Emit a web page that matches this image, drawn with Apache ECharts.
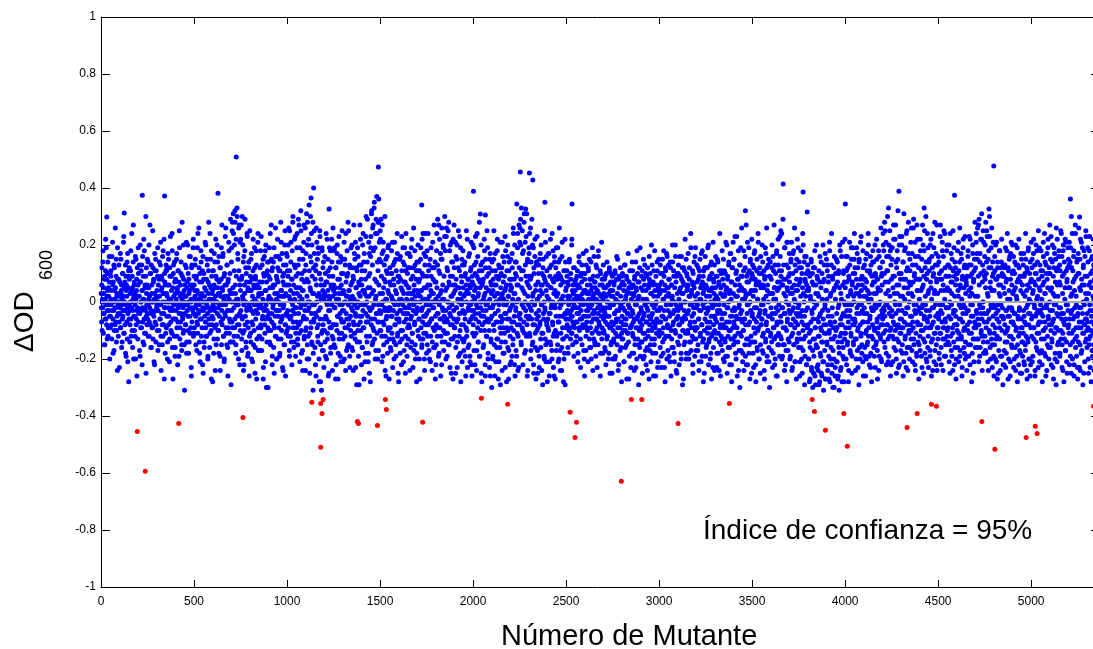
<!DOCTYPE html>
<html>
<head>
<meta charset="utf-8">
<script src="https://cdn.jsdelivr.net/npm/echarts@6/dist/echarts.min.js"></script>
<style>
  html, body { margin: 0; padding: 0; background: #fff; }
  #chart { width: 1093px; height: 649px; }
</style>
</head>
<body>
<div id="chart"></div>
<script>
// axis ticks
const xTicks = [0, 500, 1000, 1500, 2000, 2500, 3000, 3500, 4000, 4500, 5000];
const yTicks = [-1, -0.8, -0.6, -0.4, -0.2, 0, 0.2, 0.4, 0.6, 0.8, 1];

// ΔOD600 of the screen in hundredths; odd mutants (1, 3, 5, ...)
const deltaOdOdd = [
  // 0 - 499
  3,-7,12,0,-2,18,-11,5,-4,9,-15,1,22,-6,8,-1,-13,4,14,-9,2,-3,7,-20,10,
  -5,11,1,-8,16,-3,6,-18,0,13,-10,4,-2,26,-7,9,-14,2,-5,19,-1,-12,8,3,-23,
  7,-2,-9,15,4,-16,1,-6,10,-3,21,-11,5,0,-8,13,-1,-19,6,2,-13,17,-4,9,-28,
  -1,8,-14,3,11,-6,0,24,-10,5,-3,14,-20,2,7,-5,-12,16,1,-8,4,-26,12,-2,6,
  10,-4,2,-17,7,20,-9,0,-3,13,-22,4,-7,9,1,-15,18,-2,6,-11,30,-5,3,-8,15,
  -6,14,-1,5,-12,2,27,-8,10,-3,-16,6,0,-9,12,-4,8,-21,3,17,-7,1,-14,11,-2,
  4,-10,19,-3,0,8,-15,2,-6,13,-1,-24,9,5,-8,16,-12,3,-4,22,-2,7,-18,0,11,
  -9,3,12,-20,6,-2,15,-5,1,-13,9,23,-7,0,4,-11,18,-3,-27,10,2,-6,14,-1,-16,
  8,-3,0,17,-12,5,-7,11,-1,-19,25,3,-9,6,-4,14,-15,1,9,-6,-2,20,-10,4,-31,
  -4,13,-8,2,21,-14,7,-1,-5,10,-18,3,16,-2,-11,6,0,-23,12,-7,5,-3,19,-12,1,
  // 500 - 999
  6,-11,2,15,-5,-1,9,-17,4,-8,24,0,-3,12,-14,7,-21,1,18,-6,3,-9,11,-2,-25,
  -3,10,-16,5,0,-7,20,-12,8,-1,13,-4,-19,3,28,-8,6,-11,1,15,-2,-27,9,-5,4,
  11,-6,1,-13,17,-2,-9,5,22,-15,0,8,-4,14,-10,3,-18,7,-1,12,-24,2,-7,19,-3,
  -8,4,16,-1,-12,9,-20,2,6,-5,26,-11,0,13,-3,-16,7,-9,21,1,-6,10,-14,3,-29,
  14,-3,25,-9,5,31,0,-12,20,-6,28,3,-15,9,-1,33,-8,17,1,-20,11,27,-4,6,-10,
  22,-5,8,-17,30,2,-11,14,-1,-22,6,18,-8,0,-14,10,-3,24,-7,4,-18,12,-2,-26,7,
  -2,9,-14,4,17,-7,0,-21,11,-4,6,-10,19,1,-16,8,-3,13,-27,5,-1,21,-9,2,-12,
  5,-17,12,-1,-8,23,3,-13,7,-5,15,-23,0,9,-2,-11,18,-6,4,-30,10,-3,14,-9,1,
  -10,2,19,-6,8,-15,1,27,-4,11,-19,5,-1,14,-8,-25,6,0,-12,16,-3,9,-20,3,22,
  7,-13,0,11,-3,-18,15,-7,4,21,-10,2,-5,9,-24,13,-1,6,-15,25,-8,3,-11,17,-4,
  // 1000 - 1499
  16,-5,9,-12,26,2,-19,11,-6,4,21,-14,0,8,-3,28,-9,6,-16,13,1,-2,23,-11,5,
  -7,19,3,-13,10,29,-8,0,15,-21,5,-2,25,-10,8,1,-17,18,4,-5,27,-12,11,-1,-24,
  13,-9,31,2,-15,20,-3,7,-20,34,0,-11,16,4,-7,24,-14,9,-1,28,-18,3,-6,17,-4,
  8,-22,11,26,-5,0,15,-12,19,-8,3,-28,10,23,-2,-15,6,-31,2,18,-10,12,-17,1,-6,
  -10,16,2,-19,7,0,-6,22,-13,4,11,-3,-25,9,1,-9,18,-16,5,-1,14,-12,2,26,-8,
  6,-15,19,-2,3,-27,12,-8,0,17,-5,8,-18,1,23,-11,5,-4,14,-21,3,10,-7,-1,15,
  -13,4,-3,21,0,-9,13,-24,7,2,-6,18,-16,10,-1,25,-8,4,-19,12,-5,6,-12,0,20,
  2,-17,9,-7,27,1,-11,15,-4,-23,5,12,-2,-14,19,0,-8,7,-29,13,-5,2,22,-10,8,
  -5,11,-16,4,24,-1,-9,17,3,-21,8,-4,30,-12,0,14,-7,5,-18,21,2,-25,10,-3,16,
  23,-8,32,-2,13,-14,27,4,-10,35,-6,19,1,-17,29,7,-4,24,-20,11,-1,28,-7,15,3,
  // 1500 - 1999
  25,-4,29,9,-12,17,0,-19,21,5,-8,13,-2,-24,7,15,-6,1,-14,10,-3,19,-10,3,-27,
  -3,12,-9,6,-17,2,10,-5,21,-13,0,8,-20,14,-1,-8,4,-15,11,3,-4,17,-11,-25,7,
  9,-7,1,-14,16,-3,5,-22,11,0,-10,19,-4,3,-17,13,-2,7,-12,24,-6,1,-19,10,-4,
  -13,5,17,-2,-9,12,0,-16,8,-5,22,-11,3,-23,12,-1,6,-8,18,-15,2,-4,11,-18,4,
  11,-10,3,14,-6,-20,8,0,-13,19,4,-3,-15,10,-7,24,1,-11,5,-24,13,-5,16,-1,-8,
  -4,18,-12,6,-1,11,-17,2,-7,15,-21,4,9,-6,0,-14,21,-9,3,-2,12,-16,7,-27,1,
  7,-15,24,-4,13,-9,2,27,-18,0,10,-6,17,-12,4,-22,15,-2,6,20,-10,1,-5,23,-14,
  18,-3,-11,26,5,-19,11,-7,0,28,-15,6,-4,20,-8,2,-25,14,-1,9,-13,22,3,-6,12,
  -9,4,21,-16,8,-2,15,-23,5,-6,25,0,-12,11,-4,-18,19,1,-8,7,-21,13,-3,5,-14,
  2,-13,14,-6,10,-26,6,0,-10,22,-3,-16,8,3,-7,17,-19,5,-1,12,-22,0,9,-5,20,
  // 2000 - 2499
  -8,6,-17,13,1,-4,23,-11,5,-24,9,-2,16,-14,3,-7,11,-19,7,0,-10,20,-5,-28,6,
  14,-3,8,-15,2,18,-7,-22,12,-1,5,-12,25,-6,0,-18,10,4,-10,15,-2,-26,7,-14,3,
  -5,11,-20,4,-1,15,-10,6,-26,17,0,-7,9,-16,3,22,-13,-3,8,-21,12,1,-9,-29,5,
  10,-14,2,21,-6,-18,7,-1,14,-11,4,-23,18,-4,6,-9,0,16,-16,2,-27,11,-6,8,-12,
  -2,15,-9,5,-19,12,1,-13,24,-7,8,-22,3,14,-3,-17,9,0,-11,19,-24,6,-5,27,-8,
  21,-4,29,8,-15,11,-1,25,-10,4,18,-7,31,-18,0,13,-3,23,-12,7,-26,15,2,-6,9,
  17,-11,5,-2,26,-17,9,-6,0,20,-14,3,-22,12,-1,-8,22,-16,6,-4,14,-10,1,-25,7,
  -5,13,-19,2,-8,17,-13,6,-1,-24,10,3,-11,15,-6,0,-20,8,-3,21,-15,4,-7,11,-28,
  6,-9,1,17,-4,-21,9,-14,5,-2,13,-17,24,-7,0,-12,7,-26,16,-1,4,-10,12,-17,2,
  -11,3,19,-7,10,-20,0,-5,15,-24,6,-1,8,-16,21,-9,2,-13,7,-20,11,-4,-29,14,-6,
  // 2500 - 2999
  5,-12,9,-3,7,-18,1,-6,14,-4,2,-9,10,0,-11,22,-5,-15,6,3,-8,-1,12,-2,4,
  -7,8,-14,2,-4,11,-21,6,-2,16,-9,0,5,-13,9,-3,-6,13,1,-8,-1,10,-17,4,-26,
  10,-5,0,-12,18,-7,3,-10,-3,12,1,-2,15,-16,6,-9,4,-20,8,-1,19,-4,2,-6,-13,
  -3,7,-15,5,-10,13,0,-6,-23,9,-4,16,-11,3,-8,-1,11,-18,2,-5,21,-9,6,-2,1,
  -6,3,-11,8,-4,-17,5,-2,10,-13,0,-8,6,-20,3,-5,12,-9,-1,7,-15,2,-7,-25,9,
  4,-10,-1,-14,7,-4,11,-19,1,-7,8,-3,-12,15,-6,0,-22,5,9,-9,-2,2,-16,6,-11,
  -5,10,-13,0,-8,-21,6,-3,13,-10,2,-6,-15,8,-4,4,-11,-1,-27,7,-2,11,-9,-5,3,
  1,-8,14,-11,-4,6,-18,3,-6,9,-13,0,-23,5,-1,18,-9,-5,7,-15,2,-10,12,-7,-19,
  -9,5,-3,-14,11,-6,1,-20,8,-4,-11,13,-1,-17,4,-7,9,-2,-24,0,-12,6,-5,16,-8,
  7,-15,3,-5,20,-10,-1,-18,6,-7,11,-2,-13,4,-9,-26,9,0,-6,14,-11,2,-21,5,-3,
  // 3000 - 3499
  -10,6,-2,13,-7,-19,4,-5,10,-14,1,-9,18,-3,-23,6,-6,11,-12,2,-1,16,-8,-17,5,
  3,-12,8,-5,-21,12,-1,-10,6,-16,2,14,-4,-7,9,-18,0,-3,20,-11,7,-6,-25,10,-2,
  -5,10,-15,1,-8,16,-12,5,-2,-20,8,-7,12,-10,3,-27,6,-3,11,-14,0,-6,15,-18,4,
  9,-4,-11,6,-18,2,12,-8,-1,-14,19,-9,3,-5,7,-22,10,-2,-13,5,-7,16,-10,0,-17,
  -2,13,-9,3,-15,8,-6,-21,11,1,-12,5,-3,17,-8,-19,7,-1,9,-13,4,-25,12,-6,0,
  6,-16,2,-7,12,-11,-3,20,-14,4,-9,9,-20,0,-5,14,-12,5,-2,-23,8,-8,3,13,-10,
  -1,5,-13,9,-7,-18,15,-4,1,-11,7,-24,11,-3,-8,3,-15,10,-6,18,-13,2,-20,6,-9,
  11,-4,-14,3,21,-9,5,-2,-19,9,-12,0,14,-7,-16,4,-10,17,1,-22,7,-5,12,-13,3,
  -7,15,-2,-12,6,-18,10,-5,23,-9,2,-14,8,-24,4,-1,13,-11,-6,19,-17,5,-3,9,-21,
  4,-10,18,-6,1,-15,12,-8,3,-22,9,-4,21,-13,-1,7,-18,11,-7,0,15,-14,4,-25,10,
  // 3500 - 3999
  -4,13,-18,4,-9,17,-2,-14,8,-22,6,-7,11,-16,1,-10,21,-5,7,-20,12,-3,-15,5,-8,
  10,-6,-17,14,-1,-11,5,-24,9,-4,19,-13,2,-7,12,-19,6,-10,0,15,-21,3,-5,9,-12,
  -2,8,-14,20,-6,3,-18,11,-9,5,-22,13,-4,1,-12,17,-8,-26,7,-3,13,-15,5,-7,23,
  16,-5,9,-13,24,-2,-19,6,-9,13,3,-15,19,-4,-22,8,0,-10,21,-7,4,-17,12,-1,-14,
  7,-20,3,-8,15,-12,5,-3,-23,10,-6,18,-15,1,-9,13,-21,4,-4,8,-14,22,-8,-2,6,
  -11,14,-4,-21,8,2,-16,12,-7,-25,5,-10,20,-13,0,-5,16,-19,7,-3,10,-22,4,-9,13,
  -8,5,-20,10,-14,-27,2,-10,15,-23,-3,7,-17,-6,12,-25,0,-13,18,-9,-29,6,-16,-1,9,
  -16,3,-24,-7,11,-12,-28,7,-4,-19,14,-10,-26,1,-14,20,-6,-21,8,-11,-2,17,-27,-8,4,
  1,-15,13,-22,-5,9,-27,-10,18,-7,-20,3,-13,24,-25,-2,8,-17,-9,12,-30,5,-12,-23,10,
  -9,15,-4,-21,7,-14,-26,11,-1,-18,20,-8,-24,3,-11,16,-28,-5,6,-16,10,-20,0,-13,22,
  // 4000 - 4499
  5,-9,-20,11,-3,16,-14,2,-7,-24,8,-5,13,-17,3,-11,19,-1,-19,7,-8,10,-15,0,15,
  -6,12,-13,3,-20,8,-4,17,-10,-23,6,-1,14,-16,2,-8,21,-12,4,-18,9,-3,-21,12,-7,
  8,-2,-16,5,-11,15,-20,7,-4,11,-14,1,20,-9,-19,3,-6,10,-23,13,-2,-12,6,-8,18,
  -3,14,-9,-19,7,-1,10,-15,3,22,-7,-17,8,-11,4,-24,16,-5,0,12,-13,-20,9,-3,6,
  14,-8,20,-2,-14,10,-5,25,-10,3,-18,16,-1,-8,11,-21,7,20,-4,-12,2,18,-9,-22,8,
  -3,19,-12,5,-7,22,-16,9,0,-10,27,-4,-20,12,-13,3,15,-8,-23,6,20,-1,-11,8,-17,
  10,-6,23,-15,2,-9,14,-21,5,18,-4,-12,8,-18,24,-2,-8,12,-24,3,17,-10,0,-16,11,
  -5,21,-10,3,-17,13,-7,7,26,-13,-1,10,-22,16,-4,-11,8,-19,4,22,-8,-3,12,-15,1,
  8,-17,18,-4,-10,11,-23,5,-1,20,-13,9,-6,25,-18,2,-9,14,-3,-21,10,-7,19,-12,4,
  -9,15,-5,-19,7,22,-14,1,-8,12,-24,9,-2,19,-11,4,-17,13,-5,-22,8,27,-9,3,-13,
  // 4500 - 4999
  16,-6,-18,10,-1,23,-11,4,-22,8,-4,18,-13,6,-9,25,-19,1,12,-7,-15,9,-2,20,-10,
  4,-14,13,-5,-21,9,0,24,-12,7,-17,3,15,-9,-24,11,-3,19,-8,2,-16,12,-5,-20,8,
  -8,10,-16,4,21,-11,-1,14,-19,6,-6,17,-13,1,-23,9,-4,22,-10,5,-18,13,-2,-14,8,
  7,-19,12,-3,-10,18,-15,4,23,-7,-22,9,-1,13,-11,3,-18,20,-5,-25,8,-9,15,-13,2,
  12,-9,24,-4,-16,15,2,-13,27,-8,6,-19,17,-2,10,-11,22,-6,-24,13,0,-14,21,-4,9,
  -12,20,5,-18,10,25,-7,3,-21,15,-3,12,-10,23,-16,7,-1,19,-13,4,-23,14,-5,10,-19,
  4,-15,11,-9,20,-4,-21,8,-12,14,-1,-25,6,-7,18,-13,2,-19,12,-5,22,-10,-2,9,-22,
  -6,9,-17,3,13,-11,-23,7,-3,18,-14,1,-9,12,-20,4,-5,16,-26,8,-12,21,-2,-16,10,
  3,-13,16,-8,-20,10,-4,5,-24,13,-9,1,19,-15,-5,8,-22,12,-2,-11,7,-18,17,-6,-25,
  -9,6,-14,13,-3,-21,9,-7,2,-17,15,-12,4,-24,11,-1,-14,19,-8,-20,5,-4,14,-22,0,
  // 5000 - 5349
  8,-12,15,-5,-19,4,22,-9,-1,13,-24,6,-14,10,-4,18,-17,2,-8,25,-11,5,-21,13,-3,
  -7,18,-13,1,-22,11,-5,21,-10,7,-18,3,14,-9,-26,10,-2,17,-15,5,22,-6,-20,12,0,
  10,-16,4,23,-8,-13,14,-3,-23,9,-6,19,-11,2,-18,15,-1,26,-9,-21,6,12,-5,-14,18,
  -2,13,-18,6,25,-10,-4,16,-15,3,-24,20,-7,10,-13,1,22,-17,-6,11,-21,8,-1,19,-9,
  5,-11,21,-6,14,-19,2,-25,12,-3,24,-14,7,-10,18,-22,4,-5,27,-16,9,-1,-12,15,-23,
  -4,17,-9,10,-23,5,-15,22,-2,-18,8,-7,19,-11,0,13,-25,6,-8,16,-14,3,23,-6,-10,
  9,-7,14,-20,3,-13,18,-1,-23,7,-10,15,-5,-17,11,-3,22,-15,1,-8,12,-21,5,-11,17
];

// ΔOD600 in hundredths; even mutants (2, 4, 6, ...)
const deltaOdEven = [
  // 0 - 499
  -2,6,-10,1,14,-4,3,-15,8,0,-6,11,-1,19,-8,2,-3,10,-12,5,-1,16,-5,0,-9,
  9,-1,4,-13,0,21,-6,7,-3,-17,12,1,-8,5,-2,15,-10,3,-24,8,-4,0,13,-7,2,
  -4,17,-9,3,6,-1,-14,10,-5,2,23,-11,0,7,-3,-18,9,4,-7,14,-2,-21,5,11,-6,
  12,-3,-8,0,18,-12,4,-2,9,-16,1,27,-5,6,-10,3,-1,-20,15,-6,8,-3,2,-13,19,
  -7,2,13,-4,-19,7,0,11,-9,4,-2,16,-14,1,22,-6,-11,5,-3,9,-25,12,-1,6,-4,
  5,-12,1,20,-7,-2,10,-4,-16,13,3,-9,0,25,-13,7,-5,1,-22,11,-3,15,-8,2,-1,
  -3,9,-17,6,2,-10,14,-1,-6,21,-12,4,-4,8,-15,0,18,-8,3,-27,10,-2,6,-11,13,
  11,-5,2,-14,17,0,-8,6,-21,12,-3,1,-10,9,-2,24,-16,5,-6,13,-1,-12,7,-19,3,
  -6,1,15,-9,4,-22,11,-2,7,-4,19,-13,2,-7,10,-1,-17,28,-5,3,-11,8,0,-15,6,
  2,-8,-1,12,-18,5,-3,20,-10,0,8,-14,4,-5,16,-9,1,-26,13,-2,6,-11,22,-4,9,
  // 500 - 999
  -9,4,13,-2,-15,8,1,-7,19,-11,3,-4,26,-1,-18,10,-6,2,14,-12,7,-3,-22,16,0,
  8,-14,2,-5,21,-9,4,0,-12,15,-2,-20,7,11,-6,1,-16,24,-3,5,-10,18,-8,3,-28,
  -1,11,-18,6,-3,14,-24,2,9,-8,0,20,-13,5,-2,-10,16,-5,3,-19,12,-1,8,-15,27,
  5,-6,17,-12,1,-21,10,-4,23,-1,-9,6,-15,13,2,-26,8,-3,18,-11,4,-7,29,-14,0,
  19,-7,28,3,-14,24,-2,11,-9,32,6,-18,22,1,-5,30,-12,15,-1,26,-8,8,-22,21,4,
  -3,27,-13,9,-6,20,1,-24,16,-10,3,29,-5,12,-16,7,-2,23,-19,5,-9,14,-1,-12,25,
  4,-11,15,-3,-20,8,2,-8,22,-15,5,-1,12,-25,9,-6,18,0,-13,6,-4,24,-17,3,-2,
  -12,7,-2,18,-9,3,-17,13,-6,1,-27,10,-3,16,-8,4,-21,20,-1,7,-14,11,-5,-30,14,
  9,-4,-14,5,24,-10,0,15,-7,-22,12,-2,6,-16,19,-9,3,-5,26,-12,1,-20,8,-3,12,
  -5,16,-9,2,-19,11,-1,28,-13,4,-6,17,-23,7,-2,10,-15,2,20,-8,-26,13,-4,6,-10,
  // 1000 - 1499
  11,-3,20,-9,6,-17,25,1,-12,14,-5,8,-22,18,-1,30,-7,3,-14,22,-4,12,-19,9,-2,
  -9,24,5,-15,13,-4,27,-11,2,19,-7,32,-1,-18,10,4,-24,15,-6,21,-13,7,-3,26,-10,
  17,-6,8,-20,28,0,-12,22,-2,11,-25,5,30,-9,14,-4,20,-15,3,-31,12,-7,25,-1,-16,
  -4,13,-26,6,21,-9,2,-14,17,-3,-20,10,25,-6,-28,8,1,-11,19,-17,4,-8,14,-23,6,
  3,-14,10,-5,24,-20,7,-1,-11,15,-26,2,-7,19,-3,12,-18,6,-9,22,-1,-24,9,-13,4,
  -8,18,-2,-16,5,12,-22,1,-10,20,-5,-27,14,3,-13,8,-1,-19,16,-6,6,-11,25,-3,-21,
  10,-7,3,-20,15,-12,0,24,-4,-17,9,-9,2,28,-15,4,-6,13,-23,1,-10,19,-2,-16,7,
  -3,12,-24,8,-8,17,-1,-13,21,-5,5,-29,11,-2,-10,16,-19,3,6,-14,27,-7,-1,13,-22,
  6,-16,20,-3,-9,14,-27,4,11,-1,-18,23,-7,2,-14,29,-5,-21,9,-2,17,-12,5,-28,19,
  -6,31,3,-15,26,-9,18,-1,33,-13,8,-20,24,2,-4,37,-11,14,-7,28,-17,6,21,-3,-10,
  // 1500 - 1999
  22,-10,14,-1,-21,27,3,-7,18,-15,8,-3,30,-12,1,-26,11,-5,16,-18,4,-9,20,-2,-13,
  7,-2,-16,10,-5,18,-11,1,-23,13,-3,6,-14,21,-8,0,15,-19,3,-6,24,-12,9,-1,-28,
  -6,15,-3,-18,8,-10,1,23,-13,4,-1,14,-21,7,-7,19,-4,-25,11,-2,6,-15,17,-9,3,
  12,-8,5,-1,-24,16,-6,3,19,-14,1,-11,9,-3,26,-17,4,-7,13,-20,0,8,-28,14,-2,
  -3,20,-12,7,-6,11,-27,2,15,-9,4,-16,22,-2,-13,9,-5,17,-20,1,-8,24,-11,5,-18,
  9,-15,1,24,-8,-3,13,-20,6,-1,-12,19,-6,3,-24,12,-2,8,-16,27,-10,0,14,-5,-22,
  -8,18,5,-12,29,-4,-19,11,-1,22,-9,3,-26,15,-6,26,-14,1,-3,19,-17,9,-7,30,-11,
  4,-20,23,-6,12,-11,0,25,-15,7,-2,18,-23,9,-5,-13,21,2,-8,14,-27,6,-3,27,-9,
  -12,6,-25,16,-2,-7,20,-14,1,12,-19,5,-4,23,-10,3,-28,9,-1,15,-13,0,18,-8,-17,
  13,-4,9,-19,3,-9,25,-12,4,-23,8,-2,16,-15,6,-1,-21,11,-6,21,-3,-26,7,-11,2,
  // 2000 - 2499
  -3,19,-12,4,-22,10,-6,14,-1,-17,24,-9,2,-14,8,-4,28,-19,5,-2,13,-25,0,11,-8,
  7,-16,1,-5,22,-10,3,-26,15,-3,-12,9,-1,19,-20,4,-7,12,-23,1,17,-6,-13,6,-30,
  14,-2,-19,8,-8,25,-15,2,-4,11,-21,6,0,-13,18,-7,3,-27,13,-1,9,-16,21,-5,-11,
  -7,12,-24,3,16,-9,1,-18,9,-4,23,-14,5,-1,-28,11,-6,20,-10,2,-17,14,-3,-22,6,
  4,-21,8,-7,17,-1,-15,26,-10,3,-5,20,-26,10,-2,14,-19,6,-8,24,-12,1,-23,12,-4,
  26,-6,20,-14,33,5,-9,17,-22,11,-2,28,-11,3,21,-17,9,-5,31,-8,14,-24,6,-1,19,
  -5,24,-12,8,-20,14,-3,29,-15,2,-8,19,-25,10,-1,16,-11,4,-27,13,-6,23,-17,1,-9,
  10,-3,-23,15,-7,4,-16,20,-1,-11,6,-29,12,-4,9,-19,25,-2,-13,7,-21,16,-8,2,-14,
  -6,17,-10,1,-26,12,-4,22,-15,5,-1,-20,8,-8,18,-23,3,-11,14,-2,-27,9,-5,19,-12,
  8,-15,3,-21,14,-7,26,-2,-17,9,-11,1,-24,16,-5,-13,7,-28,11,0,-18,22,-9,4,-6,
  // 2500 - 2999
  -4,11,-8,2,-16,6,-1,-10,15,-6,0,-13,8,-3,20,-11,4,-7,-2,12,-19,1,-9,7,-14,
  6,-2,-12,9,-7,1,-18,5,-4,14,-10,2,-6,-23,10,-1,7,-15,3,-9,17,-5,0,-20,8,
  -8,4,-17,13,-3,-9,6,-1,-21,11,-5,3,-13,8,-2,-16,14,-7,1,-11,5,-24,9,-4,16,
  3,-14,7,-6,-19,1,12,-9,4,-2,-15,18,-7,0,-11,6,-26,10,-3,2,-13,8,-5,-18,13,
  -10,5,-3,-16,9,-7,-22,2,-5,14,-12,0,-8,6,-18,11,-2,-25,4,-9,10,-14,-1,7,-20,
  2,-8,-13,6,-4,-20,10,-11,0,-6,16,-15,3,-9,-24,8,-3,-12,5,-17,12,-1,-7,-28,9,
  -13,7,-2,-10,4,-21,13,-6,-16,1,-8,9,-27,3,-11,-4,17,-14,5,-19,-2,11,-9,-23,6,
  5,-18,-3,11,-12,-7,2,-24,8,-15,-1,14,-9,4,-20,-6,10,-13,1,-29,7,-4,-16,19,-10,
  -2,-14,9,-8,-25,4,-11,15,-5,-19,6,-1,-13,10,-22,1,-7,-16,12,-3,-10,5,-27,8,-17,
  10,-6,-21,3,-13,13,-4,-9,7,-26,2,-15,18,-8,-1,-18,6,-11,-3,11,-23,4,-7,15,-12,
  // 3000 - 3499
  -7,3,-16,10,-2,-23,7,-11,15,-5,-18,1,9,-13,4,-28,12,-6,-1,17,-20,5,-9,-3,13,
  8,-19,2,-9,14,-4,-26,6,-13,1,20,-8,-16,11,-3,-21,5,-10,16,-1,-24,9,-6,3,-14,
  -3,13,-8,-22,4,-12,9,-1,-18,16,-6,3,-29,7,-10,12,-15,0,-5,22,-11,6,-20,10,-4,
  5,-10,17,-3,-20,8,-14,2,-7,24,-17,4,-1,-12,11,-25,6,-4,14,-9,-19,2,19,-13,-2,
  -9,7,-1,-17,12,-6,-24,9,-3,15,-11,1,-21,6,-8,18,-14,3,-28,11,-2,-10,5,16,-19,
  12,-4,-15,5,-9,19,-2,-22,8,-13,2,-7,13,-18,4,-27,10,-1,-11,21,-16,7,-5,-24,1,
  -6,16,-11,2,-23,9,-3,14,-18,6,-1,-14,24,-9,-26,5,-12,11,-4,-17,8,-8,15,-1,-21,
  2,-13,10,-19,4,-7,20,-25,8,-2,-16,13,-10,3,-22,17,-5,-13,7,-28,12,-3,-9,21,-15,
  15,-8,-3,23,-14,2,-20,11,-6,-26,8,-11,18,-2,-17,6,-30,13,-4,9,-12,26,-7,1,-18,
  -10,11,-24,4,-6,16,-19,2,27,-13,7,-1,-22,10,-8,19,-15,3,-27,14,-3,-12,8,22,-5,
  // 3500 - 3999
  9,-14,2,-23,12,-6,18,-11,4,-28,7,-2,15,-17,1,24,-9,-20,10,-4,6,-25,16,-8,-1,
  -6,20,-12,6,-18,1,11,-27,8,-3,-14,17,-8,26,-21,4,-10,13,-5,-16,9,-30,3,14,-11,
  3,-17,12,-4,-23,16,-9,1,27,-13,5,-20,10,-2,-26,18,-7,4,-15,22,-11,-1,11,-19,7,
  -12,25,-7,11,-20,6,-2,29,-15,8,-4,-24,19,-9,2,-17,13,-28,5,-6,21,-13,9,-3,17,
  10,-4,-19,14,-8,21,-24,3,-11,17,-2,-15,6,26,-21,0,-7,11,-27,15,-13,4,-5,19,-16,
  -1,12,-26,7,-13,18,-5,-20,10,-3,24,-17,3,-8,14,-29,8,-12,2,16,-22,6,-9,-2,11,
  -20,4,-11,-28,9,-16,1,-7,14,-24,-4,10,-30,-13,6,-19,-2,12,-26,-9,3,-15,20,-23,-6,
  8,-22,-12,2,-29,-5,16,-18,-9,5,-25,-14,10,-3,-21,7,-31,-8,13,-17,-1,-27,4,-11,15,
  -14,11,-24,-3,7,-19,-11,21,-28,2,-8,-16,13,-22,-5,9,-30,-13,4,-20,16,-7,-26,1,-10,
  6,-21,-9,14,-27,-2,10,-16,-31,5,-12,18,-6,-23,1,-14,-8,21,-19,-4,11,-28,7,-11,-1,
  // 4000 - 4499
  -11,16,-5,-22,7,-15,12,-1,-28,9,-9,21,-3,-18,4,-12,15,-25,6,-6,19,-14,2,-8,24,
  10,-7,-24,5,-13,19,-2,-17,12,-9,3,-29,15,-4,-20,8,-11,23,-1,-15,6,-7,18,-26,2,
  -4,13,-19,8,-26,2,-10,17,-15,4,-7,24,-12,0,-22,11,-5,16,-18,1,-28,9,-3,14,-13,
  7,-16,3,-10,20,-23,9,-2,-14,15,-6,-27,5,-9,18,-1,-19,12,-12,4,26,-8,-21,10,-4,
  -6,24,-11,18,-3,28,-16,7,-1,21,-22,11,-8,30,-13,4,-19,16,-2,25,-10,-26,13,-5,19,
  15,-5,-21,9,27,-13,3,-8,22,-1,-17,14,-25,6,18,-9,32,-3,-14,10,-22,23,-6,2,-11,
  -9,20,-3,-18,14,-26,8,31,-7,1,-13,19,-4,-23,11,25,-16,5,-2,28,-11,7,-20,15,-8,
  6,-13,26,-5,17,-21,2,-9,29,-15,9,-3,21,-24,13,-1,-18,27,-7,4,-14,16,-27,8,-2,
  -12,22,-8,4,-19,15,-2,27,-10,6,-25,18,-5,-14,12,-1,30,-20,8,-6,24,-16,3,-23,14,
  11,-3,-17,20,-9,5,-26,16,-2,-13,24,-7,10,-21,3,28,-11,-1,17,-15,7,-24,13,-4,-9,
  // 4500 - 4999
  -5,14,-20,8,-11,27,-3,-16,11,-7,21,-1,-24,16,-9,4,-13,24,-6,-19,9,-2,18,-12,5,
  13,-9,-2,20,-15,4,-25,12,-6,17,-1,-19,7,-11,25,-4,-14,9,-22,14,-3,6,-27,10,-8,
  -10,18,-13,2,-21,11,-6,26,-17,5,-2,-12,15,-26,8,-7,19,-1,-16,12,-9,23,-20,3,-4,
  6,-24,9,-8,16,-3,-19,13,-11,2,22,-15,5,-5,-28,10,-1,17,-13,7,-21,11,-7,28,-16,
  -8,21,-3,17,-13,26,-6,9,-21,29,-1,14,-16,22,-4,-10,31,-12,7,-2,25,-18,11,-7,16,
  8,-17,28,-9,14,-4,23,-14,2,-24,18,-6,30,-11,5,-20,12,-2,26,-15,9,-8,21,-1,-26,
  -11,16,-2,-20,8,-13,21,-6,-27,12,-3,9,-17,3,-9,18,-24,6,-1,14,-19,10,-5,-29,13,
  5,-22,12,-8,-14,19,-3,-18,8,-10,24,-5,-27,11,-2,15,-12,1,-21,17,-7,-15,6,-3,20,
  -7,11,-23,4,-4,14,-16,20,-10,2,-19,7,-28,13,-6,-12,22,-3,-17,9,-25,4,-9,15,-14,
  9,-19,3,-11,17,-5,-22,10,-15,24,-8,-2,12,-27,6,-13,18,-4,-20,1,10,-26,7,-9,21,
  // 5000 - 5349
  -6,12,-21,3,-9,17,-13,7,-2,-26,10,-5,20,-16,1,-11,14,-3,-23,8,-7,19,-18,4,-1,
  11,-4,-17,9,-28,6,-10,16,-2,-13,24,-7,3,-19,13,-1,-24,8,-12,19,-5,-16,10,-8,27,
  -3,15,-10,-22,5,-14,20,-7,3,-27,12,-1,17,-20,7,-9,-29,11,-4,22,-15,2,-10,16,-18,
  7,-19,11,-2,-13,24,-6,-23,9,-11,18,-4,-28,14,-8,5,-17,21,-1,-14,7,-25,12,-3,15,
  -8,13,-22,5,-15,19,-4,30,-11,3,-20,11,-6,16,-26,8,-2,-13,24,-9,2,-19,14,-5,-27,
  10,-14,26,-7,-2,15,-24,4,-9,21,-17,6,-4,-29,12,-11,18,-1,-21,9,-6,25,-13,1,-16,
  -4,19,-9,-25,6,-15,23,-3,-12,10,-28,5,-7,16,-19,2,-11,13,-24,8,-1,20,-16,4,-8
];

// high blue points read one by one: [mutant, ΔOD600]
const blueOutliers = [
  [31, 0.298], [125, 0.312], [222, 0.375], [342, 0.372], [629, 0.382], [727, 0.509],
  [1129, 0.365], [1143, 0.40], [1226, 0.326], [1491, 0.474], [1493, 0.361], [1724, 0.34],
  [2002, 0.389], [2039, 0.309], [2066, 0.305], [2235, 0.344], [2254, 0.456], [2283, 0.326],
  [2303, 0.453], [2321, 0.428], [2386, 0.35], [2532, 0.344], [3464, 0.32], [3667, 0.414],
  [3774, 0.386], [3796, 0.316], [4001, 0.344], [4233, 0.33], [4289, 0.389], [4425, 0.33],
  [4588, 0.375], [4773, 0.326], [4799, 0.477], [5211, 0.361], [5260, 0.298]
];

// mutants outside the 95% interval: [mutant, ΔOD600]
const redHits = [
  [195, -0.454], [238, -0.594], [418, -0.426], [763, -0.405], [1133, -0.352], [1181, -0.356],
  [1194, -0.342], [1188, -0.391], [1181, -0.510], [1378, -0.419], [1384, -0.426], [1486, -0.433],
  [1529, -0.342], [1534, -0.377], [1729, -0.422], [2045, -0.338], [2186, -0.359], [2522, -0.387],
  [2556, -0.422], [2548, -0.475], [2797, -0.629], [2851, -0.342], [2907, -0.342], [3102, -0.426],
  [3378, -0.356], [3823, -0.342], [3835, -0.384], [3894, -0.450], [3993, -0.391], [4012, -0.506],
  [4333, -0.440], [4387, -0.391], [4464, -0.359], [4491, -0.366], [4735, -0.419], [4805, -0.517],
  [4973, -0.475], [5022, -0.436], [5032, -0.461], [5335, -0.366]
];

const FONT = '"Liberation Sans", Arial, sans-serif';
const bulkPoints = []
  .concat(deltaOdOdd.map((v, i) => [1 + 2 * i, v / 100]))
  .concat(deltaOdEven.map((v, i) => [2 + 2 * i, v / 100]));

const chart = echarts.init(document.getElementById('chart'));

const xBase = {
  type: 'value', min: xTicks[0], max: 5370, interval: xTicks[1] - xTicks[0],
  splitLine: { show: false },
  axisLine: { show: true, onZero: false, lineStyle: { color: '#000', width: 1 } },
  axisTick: { show: true, inside: true, length: 7, lineStyle: { color: '#000' } }
};
const yBase = {
  type: 'value', min: yTicks[0], max: yTicks[yTicks.length - 1], interval: 0.2,
  splitLine: { show: false },
  axisLine: { show: true, onZero: false, lineStyle: { color: '#000', width: 1 } },
  axisTick: { show: true, inside: true, length: 9, lineStyle: { color: '#000' } }
};

chart.setOption({
  animation: false,
  backgroundColor: '#fff',
  grid: { left: 101, top: 17, width: 999, height: 570, outerBoundsMode: 'none', containLabel: false },
  xAxis: [
    Object.assign({}, xBase, {
      position: 'bottom',
      axisLabel: {
        show: true, color: '#000', fontSize: 12, fontFamily: FONT, margin: 9,
        showMaxLabel: false, formatter: v => String(v)
      }
    }),
    Object.assign({}, xBase, { position: 'top', axisLabel: { show: false } })
  ],
  yAxis: [
    Object.assign({}, yBase, {
      position: 'left',
      axisLabel: { show: true, color: '#000', fontSize: 12, fontFamily: FONT, margin: 5 }
    }),
    Object.assign({}, yBase, { position: 'right', axisLabel: { show: false } })
  ],
  series: [
    {
      type: 'line', data: [], z: 1, silent: true,
      markLine: {
        silent: true, symbol: 'none', label: { show: false }, z: 1,
        lineStyle: { color: '#a6a6a6', width: 2, type: 'solid' },
        data: [{ yAxis: 0 }]
      }
    },
    {
      type: 'scatter', data: bulkPoints, z: 2, symbolSize: 5,
      itemStyle: { color: '#0000ff', opacity: 1 }, silent: true
    },
    {
      type: 'scatter', data: blueOutliers, z: 2, symbolSize: 5,
      itemStyle: { color: '#0000ff', opacity: 1 }, silent: true
    },
    {
      type: 'scatter', data: redHits, z: 3, symbolSize: 5,
      itemStyle: { color: '#ff0000', opacity: 1 }, silent: true
    }
  ],
  graphic: [
    {
      type: 'text', x: 25, y: 352, rotation: Math.PI / 2,
      style: { text: 'ΔOD', font: '28px ' + FONT, fill: '#000', textAlign: 'left', textVerticalAlign: 'middle' }
    },
    {
      type: 'text', x: 47, y: 280, rotation: Math.PI / 2,
      style: { text: '600', font: '18px ' + FONT, fill: '#000', textAlign: 'left', textVerticalAlign: 'middle' }
    },
    {
      type: 'text', x: 501, y: 637,
      style: { text: 'Número de Mutante', font: '29px ' + FONT, fill: '#000', textAlign: 'left', textVerticalAlign: 'middle' }
    },
    {
      type: 'text', x: 703, y: 531,
      style: { text: 'Índice de confianza = 95%', font: '28px ' + FONT, fill: '#000', textAlign: 'left', textVerticalAlign: 'middle' }
    }
  ]
});
</script>
</body>
</html>
